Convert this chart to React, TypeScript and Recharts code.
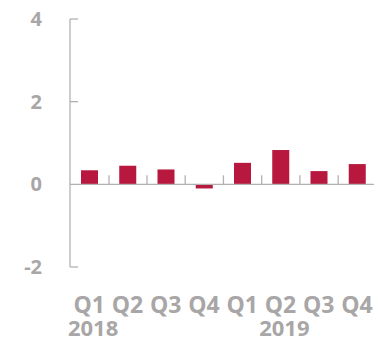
import { BarChart, Bar, XAxis, YAxis, ReferenceLine } from "recharts";

const quarters = ["Q1", "Q2", "Q3", "Q4", "Q1", "Q2", "Q3", "Q4"];
const years = ["2018", "", "", "", "", "2019", "", ""];
const values = [0.34, 0.45, 0.36, -0.1, 0.52, 0.83, 0.32, 0.49];
const yTicks = [-2, 0, 2, 4];

const GREY = "#a8a6a6";
const LINE = "#b3b0b0";
const BAR = "#b8173e";
const FONT = "'Open Sans', sans-serif";

const MARGIN = { top: 11, right: 6, left: 0, bottom: 16 };
const Y_WIDTH = 62;
const PLOT_LEFT = MARGIN.left + Y_WIDTH;

const data = quarters.map((q, i) => ({ id: i, quarter: q, year: years[i], value: values[i] }));

function QuarterTick({ x, y, index }: any) {
  return (
    <g>
      <text x={x} y={y + 46} textAnchor="middle" fill={GREY} fontSize={23} fontWeight={700} fontFamily={FONT}>
        {quarters[index]}
      </text>
      {years[index] && (
        <text x={x + 4} y={y + 69} textAnchor="middle" fill={GREY} fontSize={22} fontWeight={700} fontFamily={FONT}>
          {years[index]}
        </text>
      )}
    </g>
  );
}

function ValueTick({ x, y, payload }: any) {
  return (
    <g>
      {payload.value !== 0 && <line x1={x + 28} x2={x + 36} y1={y} y2={y} stroke={LINE} strokeWidth={1.3} />}
      <text x={x} y={y + 7} textAnchor="end" fill={GREY} fontSize={20} fontWeight={700} fontFamily={FONT}>
        {payload.value}
      </text>
    </g>
  );
}

// bar plus the small tick mark on the zero line at the right edge of its category band
function QuarterBar(props: any) {
  const { x, y, width, height, index } = props;
  const base = y + height;
  const cx = x + width / 2;
  const band = (cx - PLOT_LEFT) / (index + 0.5);
  const edge = cx + band / 2;
  return (
    <g>
      <rect x={x} y={Math.min(y, base)} width={width} height={Math.abs(height)} fill={BAR} />
      <line x1={edge} x2={edge} y1={base} y2={base - 9} stroke={LINE} strokeWidth={1.3} />
    </g>
  );
}

export default function App() {
  return (
    <BarChart width={374} height={335} data={data} margin={MARGIN} style={{ overflow: "visible" }}>
      <XAxis
        dataKey="id"
        height={60}
        axisLine={false}
        tickLine={false}
        tickSize={0}
        tickMargin={0}
        interval={0}
        tick={<QuarterTick />}
      />
      <YAxis
        domain={[-2, 4]}
        ticks={yTicks}
        width={Y_WIDTH}
        axisLine={{ stroke: LINE, strokeWidth: 1.3 }}
        tickLine={false}
        tickSize={0}
        tickMargin={28}
        interval={0}
        tick={<ValueTick />}
      />
      <ReferenceLine y={0} stroke={LINE} strokeWidth={1.3} />
      <Bar dataKey="value" fill={BAR} barSize={17} shape={<QuarterBar />} isAnimationActive={false} />
    </BarChart>
  );
}
